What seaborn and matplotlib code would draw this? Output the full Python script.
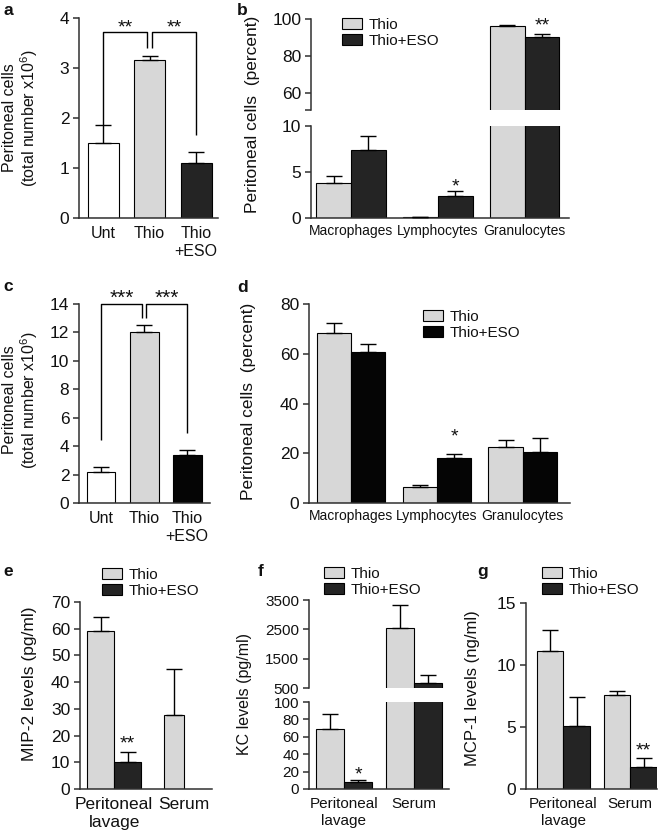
import numpy as np
import pandas as pd
import matplotlib
matplotlib.use('Agg')
import matplotlib.pyplot as plt
import seaborn as sns
from matplotlib.patches import Patch

# ---- data ----
groups = ['Unt', 'Thio', 'Thio\n+ESO']
a_mean = [1.5, 3.17, 1.1]
a_err = [0.37, 0.08, 0.23]
a_sig = ['**', '**']
c_mean = [2.2, 12.0, 3.35]
c_err = [0.3, 0.55, 0.4]
c_sig = ['***', '***']

treatments = ['Thio', 'Thio+ESO']
cell_types = ['Macrophages', 'Lymphocytes', 'Granulocytes']
b_thio = [3.8, 0.1, 96.2]
b_thio_err = [0.8, 0.0, 0.8]
b_eso = [7.4, 2.4, 90.4]
b_eso_err = [1.5, 0.5, 1.5]
b_sig = ['', '*', '**']
d_thio = [68.3, 6.4, 22.6]
d_thio_err = [4.0, 1.0, 2.8]
d_eso = [60.8, 18.1, 20.5]
d_eso_err = [3.0, 1.6, 5.8]
d_sig = ['', '*', '']

sites = ['Peritoneal\nlavage', 'Serum']
e_thio = [59.1, 27.7]
e_thio_err = [5.2, 17.2]
e_eso = [10.0, np.nan]
e_eso_err = [4.0, np.nan]
e_sig = ['**', '']
f_thio = [69.0, 2550.0]
f_thio_err = [17.0, 780.0]
f_eso = [8.5, 670.0]
f_eso_err = [2.0, 280.0]
f_sig = ['*', '']
g_thio = [11.15, 7.6]
g_thio_err = [1.65, 0.3]
g_eso = [5.1, 1.75]
g_eso_err = [2.35, 0.75]
g_sig = ['', '**']

LIGHT = '#d7d7d7'
DARK = '#242424'
BLACK = '#050505'
W, H = 659, 833

sns.set_theme(style='ticks')
plt.rcParams['font.family'] = ['Liberation Sans', 'DejaVu Sans']
plt.rcParams['mathtext.fontset'] = 'custom'
plt.rcParams['mathtext.rm'] = 'Liberation Sans'
plt.rcParams['axes.edgecolor'] = '#303030'
plt.rcParams['axes.linewidth'] = 1.1
plt.rcParams['text.color'] = '#111111'
plt.rcParams['xtick.color'] = '#111111'
plt.rcParams['ytick.color'] = '#303030'
plt.rcParams['ytick.labelcolor'] = '#111111'

fig = plt.figure(figsize=(W / 100, H / 100), dpi=100)


def px_axes(l, t, r, b):
    return fig.add_axes([l / W, 1 - b / H, (r - l) / W, (b - t) / H])


def style(ax, ylim, yticks, xlim, ysize, xsize, xpad=4, bottom=True):
    ax.set_ylim(*ylim)
    ax.set_yticks(yticks)
    ax.set_xlim(*xlim)
    ax.set_xlabel('')
    ax.set_ylabel('')
    ax.patch.set_alpha(0)
    sns.despine(ax=ax, bottom=not bottom)
    ax.tick_params(axis='y', length=4, width=1.1, pad=3, labelsize=ysize)
    ax.tick_params(axis='x', length=0, pad=xpad, labelsize=xsize)
    if not bottom:
        ax.set_xticks([])


def errbars(ax, xs, tops, errs):
    errs = np.asarray(errs, dtype=float)
    ax.errorbar(xs, tops, yerr=[np.zeros_like(errs), errs], fmt='none',
                ecolor='black', elinewidth=1, capsize=6, capthick=1, zorder=3)


def simple_bars(ax, means, errs, colors):
    df = pd.DataFrame({'group': groups, 'value': means})
    sns.barplot(data=df, x='group', y='value', hue='group', palette=colors,
                width=0.67, edgecolor='black', linewidth=0.8, errorbar=None,
                legend=False, ax=ax)
    xs = [p.get_x() + p.get_width() / 2 for p in ax.patches]
    errbars(ax, xs, means, errs)
    return xs


def bracket(ax, xs, level, legs, labels, size, gap=0.05):
    kw = dict(color='black', lw=1, clip_on=False, solid_capstyle='butt')
    ax.plot([xs[0], xs[0], xs[1] - gap, xs[1] - gap], [legs[0], level, level, legs[1]], **kw)
    ax.plot([xs[1] + gap, xs[1] + gap, xs[2], xs[2]], [legs[1], level, level, legs[2]], **kw)
    for (x0, x1), lab in zip([(xs[0], xs[1] - gap), (xs[1] + gap, xs[2])], labels):
        ax.annotate(lab, ((x0 + x1) / 2, level), xytext=(0, 0), textcoords='offset points',
                    ha='center', va='baseline', fontsize=size, annotation_clip=False)


def grouped_bars(ax, cats, thio, thio_err, eso, eso_err, colors, width):
    n = len(cats)
    df = pd.DataFrame({'cat': cats * 2,
                       'treat': [treatments[0]] * n + [treatments[1]] * n,
                       'value': list(thio) + list(eso),
                       'err': list(thio_err) + list(eso_err)}).dropna()
    sns.barplot(data=df, x='cat', y='value', hue='treat', order=cats,
                hue_order=treatments, palette=colors, width=width,
                edgecolor='black', linewidth=0.8, errorbar=None, legend=False, ax=ax)
    bars = {}
    for cont, t in zip(ax.containers, treatments):
        for p in cont.patches:
            i = int(round(p.get_x() + p.get_width() / 2))
            bars[(i, t)] = p
    return df, bars


def draw_errs(ax, cats, df, bars):
    xs, tops, errs = [], [], []
    for _, row in df.iterrows():
        p = bars[(cats.index(row['cat']), row['treat'])]
        xs.append(p.get_x() + p.get_width() / 2)
        tops.append(row['value'])
        errs.append(row['err'])
    errbars(ax, xs, tops, errs)


def stars(ax, cats, df, bars, sig, offset, size=14):
    # significance marks above the Thio+ESO bars, only in the axis that shows the bar top
    lo, hi = ax.get_ylim()
    sub = df[df['treat'] == treatments[1]]
    for _, row in sub.iterrows():
        i = cats.index(row['cat'])
        top = row['value'] + row['err']
        if sig[i] and lo <= top <= hi:
            p = bars[(i, treatments[1])]
            ax.annotate(sig[i], (p.get_x() + p.get_width() / 2, top), xytext=(0, offset),
                        textcoords='offset points', ha='center', va='baseline',
                        fontsize=size, annotation_clip=False)


def legend(colors, x, y):
    handles = [Patch(facecolor=c, edgecolor='black', linewidth=0.8, label=t)
               for c, t in zip(colors, treatments)]
    fig.legend(handles=handles, loc='center left', bbox_to_anchor=(x / W, 1 - y / H),
               frameon=False, fontsize=11, handlelength=1.3, handleheight=0.75,
               handletextpad=0.45, labelspacing=0.15, borderpad=0, borderaxespad=0)


def ylabel(text, x, y, size):
    fig.text(x / W, 1 - y / H, text, rotation=90, ha='center', va='center',
             multialignment='center', fontsize=size, linespacing=1.05)


def letter(text, x, y):
    fig.text(x / W, 1 - y / H, text, fontsize=12.5, fontweight='bold', ha='left', va='baseline')


# ---- panel a ----
ax = px_axes(79, 18, 218, 218)
xs = simple_bars(ax, a_mean, a_err, ['white', LIGHT, DARK])
style(ax, (0, 4), [0, 1, 2, 3, 4], (-0.52, 2.47), 12.5, 11.5, xpad=6)
bracket(ax, xs, 3.72, [1.87, 3.4, 1.66], a_sig, 14)
ylabel('Peritoneal cells\n(total number x10$^{6}$)', 21, 118, 11.5)

# ---- panel b (broken axis) ----
colors_b = [LIGHT, DARK]
ax_t = px_axes(311, 19, 569, 110)
ax_b = px_axes(311, 126, 569, 218)
panels_b = []
for axx in (ax_t, ax_b):
    dfb, bars_b = grouped_bars(axx, cell_types, b_thio, b_thio_err, b_eso, b_eso_err, colors_b, 0.8)
    draw_errs(axx, cell_types, dfb, bars_b)
    panels_b.append((axx, dfb, bars_b))
style(ax_t, (50.5, 100), [60, 80, 100], (-0.46, 2.51), 12.5, 10, bottom=False)
ax_t.set_yticks([50.5], minor=True)
ax_t.tick_params(axis='y', which='minor', length=4, width=1.1)
style(ax_b, (0, 10), [0, 5, 10], (-0.46, 2.51), 12.5, 10, xpad=4)
for (axx, dfb, bars_b), off in zip(panels_b, [2.5, 0]):
    stars(axx, cell_types, dfb, bars_b, b_sig, off)
legend(colors_b, 342, 33)
ylabel('Peritoneal cells  (percent)', 252, 114, 12.5)

# ---- panel c ----
ax = px_axes(79, 304, 210, 503)
xs = simple_bars(ax, c_mean, c_err, ['white', LIGHT, BLACK])
style(ax, (0, 14), list(range(0, 15, 2)), (-0.51, 2.53), 12.5, 11.5, xpad=6)
bracket(ax, xs, 14, [4.4, 13.0, 4.9], c_sig, 15)
ylabel('Peritoneal cells\n(total number x10$^{6}$)', 21, 400, 11.5)

# ---- panel d ----
ax = px_axes(309, 304, 570, 503)
dfd, bars = grouped_bars(ax, cell_types, d_thio, d_thio_err, d_eso, d_eso_err, [LIGHT, BLACK], 0.8)
draw_errs(ax, cell_types, dfd, bars)
style(ax, (0, 80), [0, 20, 40, 60, 80], (-0.49, 2.55), 12.5, 10, xpad=4)
stars(ax, cell_types, dfd, bars, d_sig, 9)
legend([LIGHT, BLACK], 423, 325)
ylabel('Peritoneal cells  (percent)', 248, 401, 12.5)

# ---- panel e ----
ax = px_axes(80, 602, 212, 789)
dfe, bars = grouped_bars(ax, sites, e_thio, e_thio_err, e_eso, e_eso_err, [LIGHT, DARK], 0.77)
# serum bar is drawn narrower in the original (no ESO bar beside it)
p = bars[(1, 'Thio')]
w = p.get_width()
p.set_x(p.get_x() + 0.27 * w)
p.set_width(0.73 * w)
draw_errs(ax, sites, dfe, bars)
style(ax, (0, 70), list(range(0, 71, 10)), (-0.49, 1.4), 12.5, 12.5, xpad=6)
stars(ax, sites, dfe, bars, e_sig, 2.5)
legend([LIGHT, DARK], 102, 583)
ylabel('MIP-2 levels (pg/ml)', 30, 684, 12.5)

# ---- panel f (broken axis) ----
ax_t = px_axes(309, 600, 449, 688)
ax_b = px_axes(309, 702, 449, 789)
for axx in (ax_t, ax_b):
    dff, bars = grouped_bars(axx, sites, f_thio, f_thio_err, f_eso, f_eso_err, [LIGHT, DARK], 0.8)
    draw_errs(axx, sites, dff, bars)
style(ax_t, (500, 3500), [500, 1500, 2500, 3500], (-0.5, 1.5), 11, 11, bottom=False)
style(ax_b, (0, 100), list(range(0, 101, 20)), (-0.5, 1.5), 11, 11, xpad=6)
stars(ax_b, sites, dff, bars, f_sig, 0.5)
legend([LIGHT, DARK], 324, 582)
ylabel('KC levels (pg/ml)', 245, 694, 11.5)

# ---- panel g ----
ax = px_axes(526, 603, 657, 789)
dfg, bars = grouped_bars(ax, sites, g_thio, g_thio_err, g_eso, g_eso_err, [LIGHT, DARK], 0.8)
draw_errs(ax, sites, dfg, bars)
style(ax, (0, 15), [0, 5, 10, 15], (-0.56, 1.4), 12.5, 11, xpad=6)
stars(ax, sites, dfg, bars, g_sig, 1.5)
legend([LIGHT, DARK], 542, 582)
ylabel('MCP-1 levels (ng/ml)', 472, 688, 12)

for t, x, y in [('a', 3, 15), ('b', 237, 15), ('c', 3, 291), ('d', 237, 292),
                ('e', 3, 576), ('f', 258, 576), ('g', 477, 576)]:
    letter(t, x, y)

fig.savefig('out.png', dpi=100)
